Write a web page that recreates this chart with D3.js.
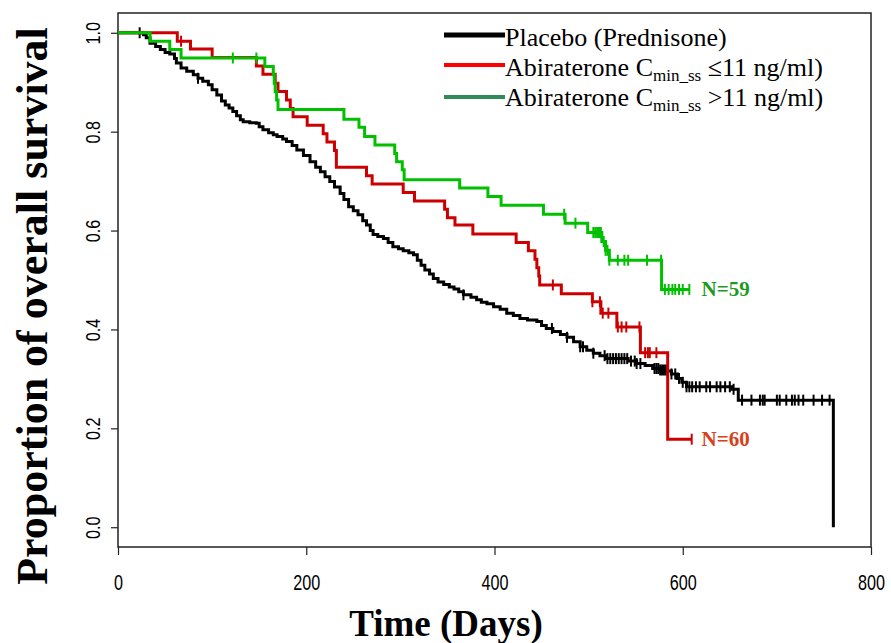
<!DOCTYPE html>
<html><head><meta charset="utf-8">
<script src="https://cdn.jsdelivr.net/npm/d3@7"></script>
<style>body{margin:0;background:#fff}svg{display:block}</style>
</head><body>
<svg id="c" width="891" height="643"></svg>
<script>
// ---------- data ----------
const xTicks = [0, 200, 400, 600, 800];
const yTicks = [0.0, 0.2, 0.4, 0.6, 0.8, 1.0];
const seriesNames = ["Placebo (Prednisone)", "Abiraterone C", "Abiraterone C"];
const nLabels = ["N=60", "N=59"];

// Kaplan-Meier steps [day, survival from that day]
const placeboSteps = [[0,1],[25,1],[27,0.996],[30,0.99],[34,0.979],[40,0.972],[45,0.966],[50,0.96],[55,0.957],[60,0.948],[62,0.939],[67,0.929],[73,0.922],[80,0.915],[85,0.908],[90,0.902],[96,0.895],[100,0.885],[105,0.874],[110,0.862],[114,0.854],[118,0.848],[122,0.841],[126,0.832],[130,0.824],[133,0.82],[140,0.818],[147,0.817],[150,0.81],[154,0.804],[160,0.798],[165,0.794],[169,0.79],[175,0.785],[179,0.78],[185,0.772],[190,0.763],[197,0.752],[204,0.739],[210,0.728],[215,0.719],[220,0.709],[225,0.699],[230,0.688],[236,0.675],[240,0.663],[245,0.648],[250,0.64],[255,0.632],[260,0.62],[264,0.611],[268,0.6],[271,0.592],[276,0.588],[282,0.584],[287,0.576],[292,0.567],[298,0.563],[303,0.559],[309,0.555],[314,0.551],[318,0.54],[322,0.53],[326,0.52],[331,0.512],[335,0.503],[340,0.496],[346,0.491],[352,0.486],[357,0.482],[362,0.476],[367,0.47],[375,0.465],[381,0.46],[386,0.455],[392,0.452],[399,0.446],[406,0.441],[413,0.433],[420,0.428],[427,0.422],[435,0.419],[445,0.416],[450,0.408],[455,0.402],[462,0.396],[470,0.39],[477,0.384],[484,0.375],[491,0.365],[498,0.358],[505,0.352],[512,0.347],[519,0.341],[542,0.336],[551,0.331],[560,0.327],[568,0.321],[576,0.318],[583,0.316],[588,0.31],[594,0.301],[599,0.293],[604,0.284],[652,0.279],[659,0.257],[760,0]];
const lowSteps = [[0,1],[63,0.983],[77,0.967],[100,0.95],[147,0.933],[154,0.916],[167,0.898],[170,0.881],[179,0.864],[183,0.847],[186,0.83],[201,0.813],[218,0.796],[222,0.779],[230,0.762],[232,0.728],[264,0.711],[270,0.694],[303,0.677],[315,0.66],[347,0.643],[350,0.626],[358,0.611],[377,0.593],[423,0.576],[436,0.559],[443,0.542],[445,0.525],[447,0.508],[448,0.49],[471,0.472],[504,0.456],[513,0.433],[530,0.405],[555,0.353],[584,0.178],[609.5,0.178]];
const highSteps = [[0,1],[34,0.983],[55,0.966],[67,0.949],[156,0.932],[165,0.915],[166,0.898],[167,0.881],[168.5,0.864],[170,0.845],[240,0.825],[256,0.809],[262,0.79],[273,0.773],[294,0.756],[296,0.739],[302,0.723],[304,0.703],[363,0.686],[393,0.669],[407,0.651],[452,0.633],[475,0.615],[499,0.596],[514,0.578],[518,0.56],[522,0.54],[577.5,0.481],[607,0.481]];

// censored observations (days)
const placeboCensor = [23,85,367,461,477,491,494,505,517,520,523,526,529,532,535,538,541,545,549,551,555,570,572,574,576,578,580,582,584,588,592,596,600,604,607,610,614,618,625,629,636,640,645,650,654,663,673,682,685,687,700,703,710,716,719,723,728,739,748,756];
const lowCensor = [67,462,504,512,515,521,531,535,540,554,560,563,565,572,609.5];
const highCensor = [122,147,474,486,505,507,509,511,513,516,518,520,522,531,538,542,562,577,581,585,589,592,596,600,607];

// ---------- drawing ----------
const svg = d3.select("#c");
const x = d3.scaleLinear().domain([0, 800]).range([118, 871]);
const y = d3.scaleLinear().domain([-0.04, 1.04]).range([547, 13]);

const curveCol = ["#000000", "#cc0000", "#00c000"];
const legendCol = ["#000000", "#ff0000", "#2e8b57"];

// frame
svg.append("rect").attr("x", x(0)).attr("y", y(1.04))
  .attr("width", x(800) - x(0)).attr("height", y(-0.04) - y(1.04))
  .attr("fill", "none").attr("stroke", "#222").attr("stroke-width", 1.5);

const narrow = "'Liberation Sans Narrow','Arial Narrow','Liberation Sans',Arial,sans-serif";

// x axis
const gx = svg.append("g").attr("transform", `translate(0,${y(-0.04)})`)
  .call(d3.axisBottom(x).tickValues(xTicks).tickSize(8).tickPadding(19).tickFormat(d3.format("d")));
gx.select(".domain").remove();
gx.selectAll(".tick line").attr("stroke", "#222").attr("stroke-width", 1.2);
gx.selectAll(".tick text").attr("font-family", narrow).attr("font-size", 22).attr("fill", "#000").attr("dy", "0.71em");

// y axis
const gy = svg.append("g").attr("transform", `translate(${x(0)},0)`)
  .call(d3.axisLeft(y).tickValues(yTicks).tickSize(7).tickFormat(d3.format(".1f")));
gy.select(".domain").remove();
gy.selectAll(".tick line").attr("stroke", "#222").attr("stroke-width", 1.2);
gy.selectAll(".tick text").attr("font-family", narrow).attr("font-size", 20).attr("fill", "#000")
  .attr("transform", "rotate(-90)").attr("x", 0).attr("y", -18).attr("dy", 0).attr("text-anchor", "middle");

// condensed tick labels (like the reference's narrow numerals)
function fit(sel, perChar) {
  sel.each(function () {
    const t = d3.select(this), s = t.text();
    const target = s.split("").reduce((a, ch) => a + (ch === "." ? perChar * 0.5 : perChar), 0);
    t.attr("textLength", target).attr("lengthAdjust", "spacingAndGlyphs");
  });
}
fit(gx.selectAll(".tick text"), 9.0);
fit(gy.selectAll(".tick text"), 9.0);

// curves
const line = d3.line().x(d => x(d[0])).y(d => y(d[1])).curve(d3.curveStepAfter);
const allSteps = [placeboSteps, lowSteps, highSteps];
const allCensor = [placeboCensor, lowCensor, highCensor];
function survAt(steps, d) {
  let v = steps[0][1];
  for (const s of steps) { if (s[0] <= d) v = s[1]; else break; }
  return v;
}
allSteps.forEach((steps, i) => {
  const g = svg.append("g");
  g.append("path").attr("d", line(steps)).attr("fill", "none")
    .attr("stroke", curveCol[i]).attr("stroke-width", 3).attr("stroke-linejoin", "miter");
  g.selectAll("line.c").data(allCensor[i]).join("line").attr("class", "c")
    .attr("x1", d => x(d)).attr("x2", d => x(d))
    .attr("y1", d => y(survAt(steps, d)) - 5.5).attr("y2", d => y(survAt(steps, d)) + 5.5)
    .attr("stroke", curveCol[i]).attr("stroke-width", 2);
});

// N labels
const serif = "'Liberation Serif','Times New Roman',Times,serif";
svg.append("text").attr("x", x(620)).attr("y", y(survAt(lowSteps, 600)) + 7)
  .attr("font-family", serif).attr("font-weight", "bold").attr("font-size", 21)
  .attr("fill", "#d84018").text(nLabels[0]);
svg.append("text").attr("x", x(620)).attr("y", y(survAt(highSteps, 600)) + 7)
  .attr("font-family", serif).attr("font-weight", "bold").attr("font-size", 21)
  .attr("fill", "#1f9a1f").text(nLabels[1]);

// legend
const legY = [35, 65, 97];
const legBase = [46, 76, 106];
const legW = [5, 4, 4];
const subs = [null, ["min_ss", " \u226411 ng/ml)"], ["min_ss", " >11 ng/ml)"]];
seriesNames.forEach((name, i) => {
  svg.append("line").attr("x1", 444).attr("x2", 505).attr("y1", legY[i]).attr("y2", legY[i])
    .attr("stroke", legendCol[i]).attr("stroke-width", legW[i]);
  const t = svg.append("text").attr("x", 505).attr("y", legBase[i])
    .attr("font-family", serif).attr("font-size", 26).attr("fill", "#000");
  t.append("tspan").text(name);
  if (subs[i]) {
    t.append("tspan").attr("font-size", 17).attr("dy", 5).text(subs[i][0]);
    t.append("tspan").attr("font-size", 26).attr("dy", -5).text(subs[i][1]);
  }
});

// axis titles
svg.append("text").attr("x", 446).attr("y", 636).attr("text-anchor", "middle")
  .attr("font-family", serif).attr("font-weight", "bold").attr("font-size", 37).attr("fill", "#000")
  .text("Time (Days)");
svg.append("text").attr("transform", "translate(47,306) rotate(-90)").attr("text-anchor", "middle")
  .attr("font-family", serif).attr("font-weight", "bold").attr("font-size", 44).attr("fill", "#000")
  .text("Proportion of overall survival");
</script>
</body></html>
